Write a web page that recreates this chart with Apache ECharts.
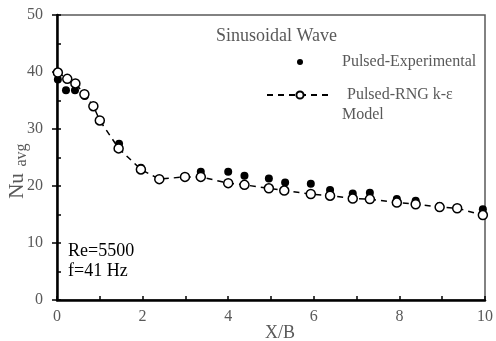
<!DOCTYPE html>
<html>
<head>
<meta charset="utf-8">
<script src="https://cdn.jsdelivr.net/npm/echarts@6/dist/echarts.min.js"></script>
<style>html,body{margin:0;padding:0;background:#fff}#c{width:496px;height:341px}</style>
</head>
<body>
<div id="c"></div>
<script>
// Data
var xModel = [0.02,0.24,0.43,0.64,0.85,1.0,1.44,1.96,2.39,2.99,3.36,4.0,4.38,4.95,5.31,5.93,6.38,6.91,7.31,7.94,8.38,8.94,9.35,9.95];
var yModel = [39.9,38.8,38.0,36.1,34.0,31.5,26.6,22.9,21.2,21.6,21.6,20.5,20.2,19.6,19.2,18.6,18.3,17.8,17.7,17.1,16.8,16.3,16.1,14.9];
var xExp = [0.02,0.21,0.42,0.65,1.45,1.96,3.36,4.0,4.38,4.95,5.33,5.93,6.38,6.91,7.31,7.94,8.38,8.94,9.95];
var yExp = [38.7,36.8,36.8,35.8,27.4,23.2,22.5,22.5,21.8,21.3,20.6,20.4,19.3,18.7,18.8,17.7,17.4,16.5,15.9];
var xTicks = [0,2,4,6,8,10];
var yTicks = [0,10,20,30,40,50];
var expName = 'Pulsed-Experimental';
var modelName = 'Pulsed-RNG k-ε Model';

var FONT = '"Liberation Serif", "DejaVu Serif", serif';
var GRAY = '#595959';

var chart = echarts.init(document.getElementById('c'), null, {renderer: 'canvas'});
chart.setOption({
  animation: false,
  backgroundColor: '#fff',
  grid: {left: 57, right: 8, top: 15, bottom: 41, show: true, borderColor: GRAY, borderWidth: 1.5},
  xAxis: {
    type: 'value', min: 0, max: 10, interval: 1,
    axisLine: {lineStyle: {color: '#000', width: 2.5}},
    axisTick: {inside: true, length: 4, lineStyle: {color: '#000', width: 1.5}},
    splitLine: {show: false},
    axisLabel: {
      margin: 9, color: GRAY, fontFamily: FONT, fontSize: 16,
      formatter: function (v) { return xTicks.indexOf(v) >= 0 ? String(v) : ''; }
    }
  },
  yAxis: [{
    type: 'value', min: 0, max: 50, interval: 10, position: 'left',
    axisLine: {show: true, lineStyle: {color: '#000', width: 2.5}},
    axisTick: {show: true, inside: false, length: 5, lineStyle: {color: '#000', width: 1.5}},
    splitLine: {show: false},
    axisLabel: {
      margin: 14, color: GRAY, fontFamily: FONT, fontSize: 16,
      formatter: function (v) { return yTicks.indexOf(v) >= 0 ? String(v) : ''; }
    }
  }, {
    type: 'value', min: 0, max: 50, interval: 5, position: 'left',
    axisLine: {show: false},
    axisTick: {show: true, inside: true, length: 4, lineStyle: {color: '#000', width: 1.5}},
    splitLine: {show: false},
    axisLabel: {show: false}
  }],
  legend: [{
    data: [expName], left: 297, top: 54, orient: 'vertical',
    itemWidth: 74, itemHeight: 6, padding: 0,
    itemStyle: {opacity: 1, color: '#000'},
    textStyle: {color: GRAY, fontFamily: FONT, fontSize: 16},
    selectedMode: false
  }, {
    data: [modelName], left: 266, top: 87, orient: 'vertical',
    itemWidth: 66, itemHeight: 9, padding: 0,
    formatter: function () { return 'Pulsed-RNG k-ε'; },
    textStyle: {color: GRAY, fontFamily: FONT, fontSize: 16, padding: [18, 0, 0, 9]},
    selectedMode: false
  }],
  graphic: [
    {type: 'text', left: 216, top: 27, style: {text: 'Sinusoidal Wave', fill: GRAY, font: '18px ' + FONT}},
    {type: 'text', left: 342, top: 107, style: {text: 'Model', fill: GRAY, font: '16px ' + FONT}},
    {type: 'text', left: 68, top: 242, style: {text: 'Re=5500', fill: '#000', font: '18px ' + FONT}},
    {type: 'text', left: 68, top: 262, style: {text: 'f=41 Hz', fill: '#000', font: '18px ' + FONT}},
    {type: 'text', x: 17, y: 186, rotation: Math.PI / 2, style: {text: 'Nu', fill: GRAY, font: '21px ' + FONT, align: 'center', verticalAlign: 'middle'}},
    {type: 'text', x: 22, y: 155, rotation: Math.PI / 2, style: {text: 'avg', fill: GRAY, font: '16px ' + FONT, align: 'center', verticalAlign: 'middle'}},
    {type: 'text', x: 280, y: 333, style: {text: 'X/B', fill: GRAY, font: '18px ' + FONT, align: 'center', verticalAlign: 'middle'}}
  ],
  series: [{
    name: expName, type: 'scatter',
    data: xExp.map(function (x, i) { return [x, yExp[i]]; }),
    symbol: 'circle', symbolSize: 8,
    itemStyle: {color: '#000', opacity: 1}
  }, {
    name: modelName, type: 'line',
    data: xModel.map(function (x, i) { return [x, yModel[i]]; }),
    symbol: 'circle', symbolSize: 9, showSymbol: true,
    lineStyle: {color: '#000', width: 1.5, type: [6, 5]},
    itemStyle: {color: '#fff', borderColor: '#000', borderWidth: 1.5}
  }]
});
</script>
</body>
</html>
